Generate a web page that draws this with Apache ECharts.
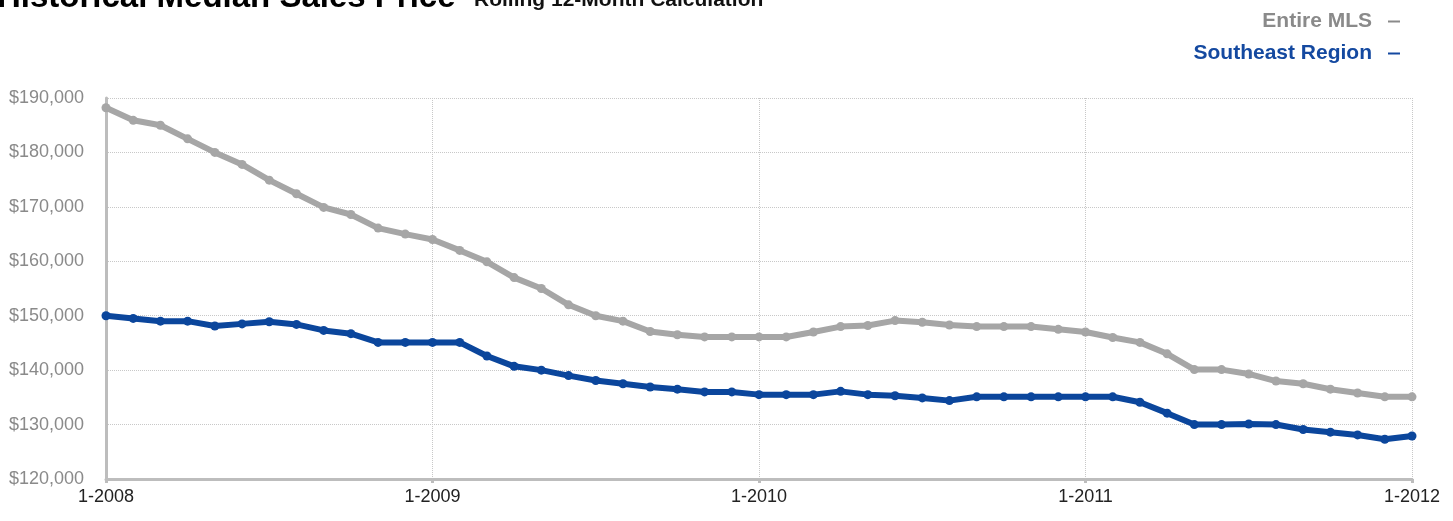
<!DOCTYPE html>
<html>
<head>
<meta charset="utf-8">
<script src="https://cdn.jsdelivr.net/npm/echarts@6/dist/echarts.min.js"></script>
<style>
html,body{margin:0;padding:0;background:#fff;}
#c{width:1453px;height:521px;}
</style>
</head>
<body>
<div id="c"></div>
<script>
const months = [];
for (let y = 2008; y <= 2012; y++) {
  for (let m = 1; m <= 12; m++) {
    if (y === 2012 && m > 1) break;
    months.push(m + '-' + y);
  }
}
const entireMLS = [
  188200, 185900, 185000, 182500, 180000, 177800, 174900, 172400, 169900, 168600, 166100, 165000,
  164000, 162000, 159900, 157000, 155000, 152000, 150000, 149000, 147100, 146500, 146100, 146100,
  146100, 146100, 147000, 148000, 148200, 149100, 148800, 148300, 148000, 148000, 148000, 147500,
  147000, 146000, 145100, 143000, 140100, 140100, 139300, 138000, 137500, 136500, 135800, 135100,
  135100
];
const southeast = [
  150000, 149500, 149000, 149000, 148100, 148500, 148900, 148400, 147300, 146700, 145100, 145100,
  145100, 145100, 142600, 140700, 140000, 139000, 138100, 137500, 136900, 136500, 136000, 136000,
  135500, 135500, 135500, 136100, 135500, 135300, 134900, 134400, 135100, 135100, 135100, 135100,
  135100, 135100, 134100, 132100, 130000, 130000, 130100, 130000, 129100, 128600, 128100, 127300,
  127900
];
const seriesNames = ['Entire MLS', 'Southeast Region'];
const yTicks = [120000, 130000, 140000, 150000, 160000, 170000, 180000, 190000];

const GRAY = '#a6a6a6';
const BLUE = '#0b469c';
const FONT = '"Liberation Sans", Arial, Helvetica, sans-serif';

const chart = echarts.init(document.getElementById('c'), null, {renderer: 'canvas'});
chart.setOption({
  animation: false,
  backgroundColor: '#fff',
  title: [
    {
      text: 'Historical Median Sales Price',
      left: -3,
      top: -19,
      padding: 0,
      textStyle: {fontFamily: FONT, fontSize: 33, fontWeight: 'bold', color: '#000', lineHeight: 33}
    },
    {
      text: 'Rolling 12-Month Calculation',
      left: 474,
      top: -10,
      padding: 0,
      textStyle: {fontFamily: FONT, fontSize: 21, fontWeight: 'bold', color: '#111', lineHeight: 21}
    }
  ],
  legend: {
    orient: 'vertical',
    right: 53,
    top: 11,
    align: 'right',
    itemGap: 11,
    itemWidth: 12,
    itemHeight: 2,
    icon: 'rect',
    padding: 0,
    data: [
      {name: seriesNames[0], textStyle: {color: '#8a8a8a'}, itemStyle: {color: '#8a8a8a'}},
      {name: seriesNames[1], textStyle: {color: '#1449a0'}, itemStyle: {color: '#1449a0'}}
    ],
    textStyle: {fontFamily: FONT, fontSize: 21, fontWeight: 'bold', padding: [0, 11, 0, 0]}
  },
  grid: {left: 106, right: 41, top: 98, bottom: 42, containLabel: false},
  xAxis: {
    type: 'category',
    data: months,
    boundaryGap: false,
    axisLine: {show: true, lineStyle: {color: '#bdbdbd', width: 3}},
    axisTick: {show: true, interval: 11, length: 4, lineStyle: {color: '#bdbdbd', width: 3}},
    axisLabel: {interval: 11, color: '#222', fontFamily: FONT, fontSize: 18, margin: 9},
    splitLine: {show: true, interval: 11, lineStyle: {color: '#c8c8c8', type: 'dotted', width: 1}}
  },
  yAxis: {
    type: 'value',
    min: yTicks[0],
    max: yTicks[yTicks.length - 1],
    interval: 10000,
    axisLine: {show: true, lineStyle: {color: '#bdbdbd', width: 3}},
    axisTick: {show: false},
    axisLabel: {
      color: '#8a8a8a', fontFamily: FONT, fontSize: 18, margin: 22,
      formatter: v => '$' + v.toLocaleString('en-US')
    },
    splitLine: {show: true, lineStyle: {color: '#c8c8c8', type: 'dotted', width: 1}}
  },
  series: [
    {
      name: seriesNames[0], type: 'line', data: entireMLS,
      symbol: 'circle', symbolSize: 9,
      lineStyle: {color: GRAY, width: 6},
      itemStyle: {color: GRAY}
    },
    {
      name: seriesNames[1], type: 'line', data: southeast,
      symbol: 'circle', symbolSize: 9,
      lineStyle: {color: BLUE, width: 6},
      itemStyle: {color: BLUE}
    }
  ]
});
</script>
</body>
</html>
